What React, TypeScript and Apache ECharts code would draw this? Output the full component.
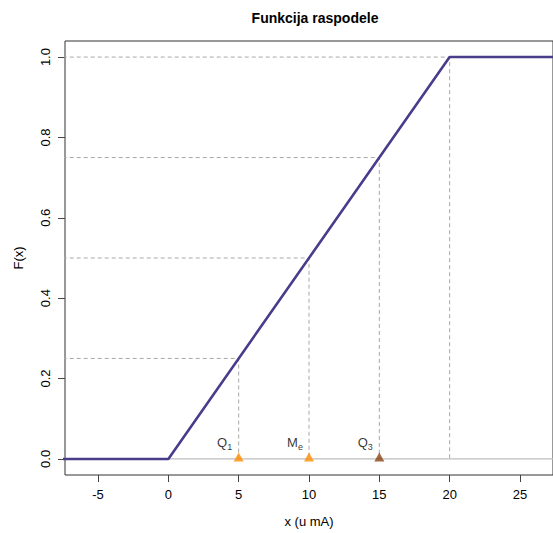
import React, { useEffect, useRef } from "react";
import * as echarts from "echarts";

const xTicks = [-5, 0, 5, 10, 15, 20, 25];
const yTicks = [0, 0.2, 0.4, 0.6, 0.8, 1.0];
const cdfX = [-10, 0, 20, 30];
const cdfY = [0, 0, 1, 1];
const quantX = [5, 10, 15, 20];
const quantP = [0.25, 0.5, 0.75, 1.0];
const markerX = [5, 10, 15];
const markerNames = ["Q", "M", "Q"];
const markerSubs = ["1", "e", "3"];
const markerColors = ["#FF8C00", "#FF8C00", "#8B4513"];

export default function App() {
  const ref = useRef<HTMLDivElement>(null);
  useEffect(() => {
    if (!ref.current) return;
    const chart = echarts.init(ref.current, null, { renderer: "svg" });
    const font = "Liberation Sans, Arial, sans-serif";
    const series: any[] = [];
    series.push({
      type: "line",
      data: [[-10, 0], [30, 0]],
      symbol: "none",
      lineStyle: { color: "#BEBEBE", width: 1.2 },
      z: 1,
      silent: true,
    });
    quantX.forEach((qx, i) => {
      const p = quantP[i];
      series.push({
        type: "line",
        data: [[-10, p], [qx, p], [qx, 0]],
        symbol: "none",
        lineStyle: { color: "#A9A9A9", width: 1, type: [4, 3] },
        z: 2,
        silent: true,
      });
    });
    series.push({
      type: "line",
      data: cdfX.map((x, i) => [x, cdfY[i]]),
      symbol: "none",
      lineStyle: { color: "#483D8B", width: 2.6 },
      z: 5,
      silent: true,
    });
    markerX.forEach((mx, i) => {
      series.push({
        type: "scatter",
        data: [[mx, 0]],
        symbol: "triangle",
        symbolSize: [10, 9],
        symbolOffset: [0, -2],
        itemStyle: { color: markerColors[i] },
        z: 6,
        silent: true,
      });
      series.push({
        type: "scatter",
        data: [[mx, 0]],
        symbolSize: 0,
        z: 7,
        silent: true,
        label: {
          show: true,
          position: "inside",
          offset: [-14, -16],
          formatter: `{m|${markerNames[i]}}{s|${markerSubs[i]}}`,
          rich: {
            m: { fontSize: 13, fontFamily: font, color: "#000", lineHeight: 16 },
            s: { fontSize: 9, fontFamily: font, color: "#000", padding: [8, 0, 0, 0], lineHeight: 16 },
          },
        },
      });
    });
    chart.setOption({
      animation: false,
      backgroundColor: "#fff",
      title: {
        text: "Funkcija raspodele",
        left: 310,
        top: 6,
        textAlign: "center",
        textStyle: { fontFamily: font, fontSize: 14, fontWeight: "bold", color: "#000" },
      },
      grid: {
        left: 65,
        top: 41,
        width: 491,
        height: 435,
        show: true,
        borderColor: "#333",
        borderWidth: 1,
        backgroundColor: "transparent",
      },
      xAxis: {
        type: "value",
        min: -7.35,
        max: 27.35,
        splitLine: { show: false },
        axisLine: { show: false, onZero: false },
        axisTick: { show: true, customValues: xTicks, length: 7, lineStyle: { color: "#444" } },
        axisLabel: {
          customValues: xTicks,
          margin: 13,
          fontFamily: font,
          fontSize: 13,
          color: "#000",
        },
        name: "x (u mA)",
        nameLocation: "middle",
        nameGap: 40,
        nameTextStyle: { fontFamily: font, fontSize: 13, color: "#000" },
      },
      yAxis: {
        type: "value",
        min: -0.04,
        max: 1.04,
        splitLine: { show: false },
        axisLine: { show: false, onZero: false },
        axisTick: { show: true, customValues: yTicks, length: 7, lineStyle: { color: "#444" } },
        axisLabel: {
          customValues: yTicks,
          rotate: 90,
          margin: 13,
          fontFamily: font,
          fontSize: 13,
          color: "#000",
          formatter: (v: number) => v.toFixed(1),
        },
        name: "F(x)",
        nameLocation: "middle",
        nameRotate: 90,
        nameGap: 40,
        nameTextStyle: { fontFamily: font, fontSize: 13, color: "#000" },
      },
      series,
    });
    return () => chart.dispose();
  }, []);
  return (
    <div
      ref={ref}
      style={{ position: "absolute", left: 0, top: 0, width: 553, height: 533 }}
    />
  );
}
